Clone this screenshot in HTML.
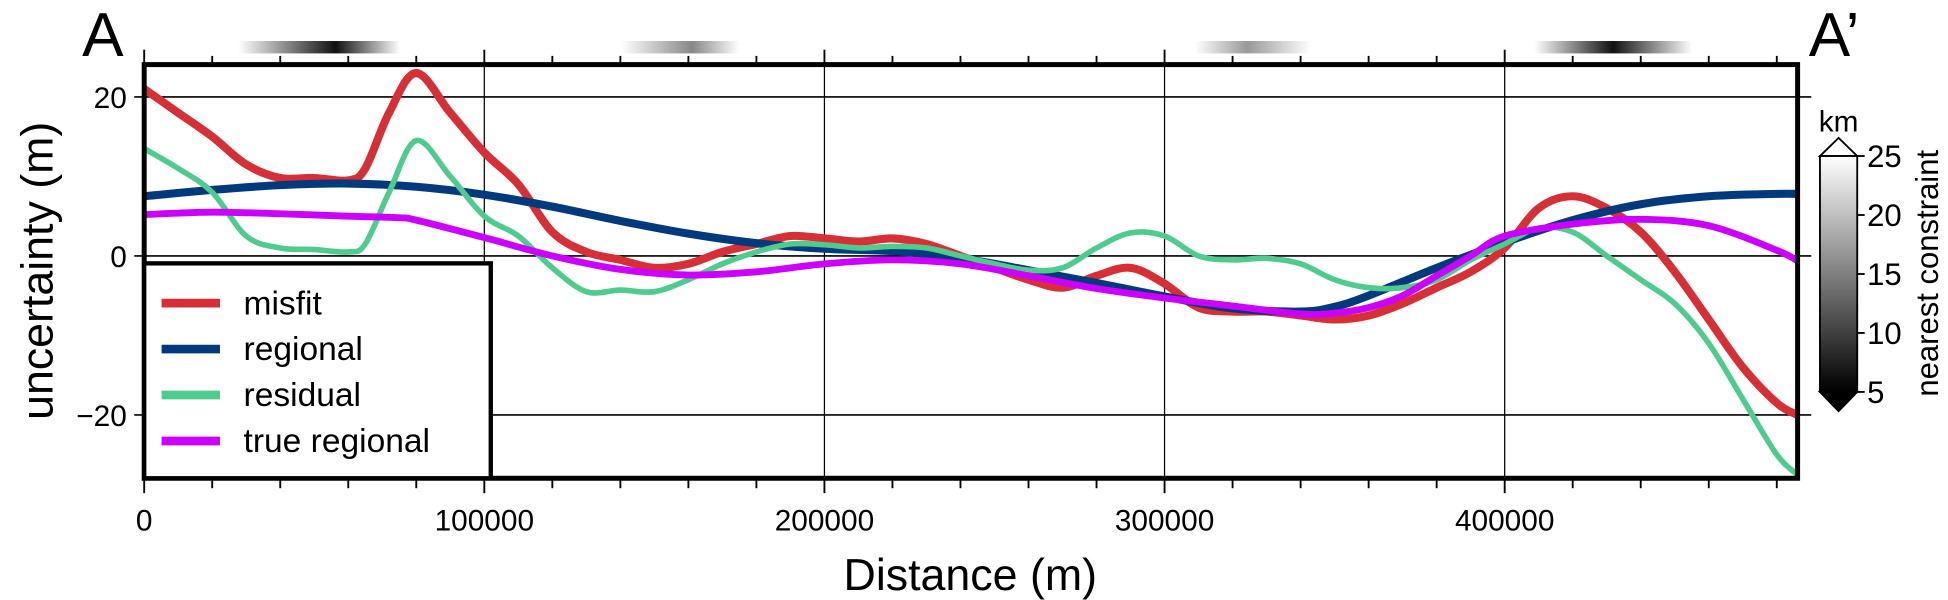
<!DOCTYPE html>
<html><head><meta charset="utf-8"><style>
html,body{margin:0;padding:0;background:#fff;}
svg{display:block;font-family:"Liberation Sans",sans-serif;}
</style></head><body>
<svg id="chart" width="1948" height="600" viewBox="0 0 1568 483" xmlns="http://www.w3.org/2000/svg">
<defs>
<linearGradient id="g1" x1="0" x2="1"><stop offset="0" stop-color="#fff"/><stop offset="0.6" stop-color="#111"/><stop offset="1" stop-color="#fff"/></linearGradient>
<linearGradient id="g2" x1="0" x2="1"><stop offset="0" stop-color="#fff"/><stop offset="0.6" stop-color="#888"/><stop offset="1" stop-color="#fff"/></linearGradient>
<linearGradient id="g3" x1="0" x2="1"><stop offset="0" stop-color="#fff"/><stop offset="0.45" stop-color="#999"/><stop offset="1" stop-color="#fff"/></linearGradient>
<linearGradient id="g4" x1="0" x2="1"><stop offset="0" stop-color="#fff"/><stop offset="0.5" stop-color="#111"/><stop offset="1" stop-color="#fff"/></linearGradient>
<linearGradient id="cb" x1="0" x2="0" y1="0" y2="1"><stop offset="0" stop-color="#fff"/><stop offset="1" stop-color="#000"/></linearGradient>
<clipPath id="clip"><rect x="116" y="52" width="1331" height="333"/></clipPath>
</defs>
<g id="grid"></g>
<g id="series" clip-path="url(#clip)"></g>
<rect x="116" y="52" width="1331" height="333" fill="none" stroke="#000" stroke-width="4"/>
<g id="ticks"></g>
<g>
<rect x="192" y="33" width="130" height="10" fill="url(#g1)"/>
<rect x="500" y="33" width="95" height="10" fill="url(#g2)"/>
<rect x="962" y="33" width="93" height="10" fill="url(#g3)"/>
<rect x="1235" y="33" width="127" height="10" fill="url(#g4)"/>
</g>
<text x="66" y="45" font-size="50">A</text>
<text x="1456" y="45" font-size="50">A’</text>
<text x="781" y="475" font-size="36" text-anchor="middle">Distance (m)</text>
<text transform="translate(42,218) rotate(-90)" font-size="36" text-anchor="middle">uncertainty (m)</text>
<g>
<rect x="116" y="212" width="279" height="173" fill="#fff" stroke="#000" stroke-width="3.5"/>
<line x1="130" x2="177" y1="244" y2="244" stroke="#d62f36" stroke-width="7"/>
<text x="196" y="253" font-size="27">misfit</text>
<line x1="130" x2="177" y1="281" y2="281" stroke="#003a7d" stroke-width="7"/>
<text x="196" y="290" font-size="27">regional</text>
<line x1="130" x2="177" y1="318" y2="318" stroke="#4fcc8d" stroke-width="7"/>
<text x="196" y="327" font-size="27">residual</text>
<line x1="130" x2="177" y1="355" y2="355" stroke="#cc00ff" stroke-width="7"/>
<text x="196" y="364" font-size="27">true regional</text>
</g>
<g>
<polygon points="1465,125.6 1480,111 1495,125.6" fill="#fff" stroke="#000" stroke-width="1.5"/>
<polygon points="1465,315.5 1480,331 1495,315.5" fill="#000" stroke="#000" stroke-width="1.5"/>
<rect x="1465" y="125.6" width="30" height="189.9" fill="url(#cb)" stroke="#000" stroke-width="1.5"/>
<text x="1480" y="106" font-size="24" text-anchor="middle">km</text>
<g id="cbticks"></g>
<text transform="translate(1560,220) rotate(-90)" font-size="25" text-anchor="middle">nearest constraint</text>
</g>
</svg>
<script>
const distance = [0,10000,20000,30000,40000,50000,60000,65000,72000,80000,90000,100000,110000,120000,130000,140000,150000,160000,170000,180000,190000,200000,210000,220000,230000,240000,250000,260000,270000,280000,290000,300000,310000,320000,330000,340000,350000,360000,370000,380000,390000,400000,410000,420000,430000,440000,450000,460000,470000,480000,486000];
const misfit = [21,18,15,11.5,9.8,9.8,9.5,11,18,23,18,13,9,3,0.5,-0.5,-1.5,-1,0.5,1.5,2.5,2.2,1.8,2.2,1.5,0,-1.5,-3,-4,-2.5,-1.5,-3.5,-6.5,-7,-7,-7.5,-8,-7.5,-6,-4,-2,1,6,7.5,6,3,-2,-8,-14,-18.5,-20];
const residual = [13.5,11,8,2.5,1,0.8,0.5,1.5,8,14.5,10,5,2.5,-1.5,-4.5,-4.3,-4.5,-3,-1,0.5,1.5,1.4,1,1.2,1,0,-1,-1.8,-1.5,1,2.9,2.5,0,-0.5,-0.3,-1,-3,-4,-4,-3,-0.5,1.5,3.5,3,0,-3,-6,-11,-18,-25,-27.5];
const regionalX = [0,20000,40000,60000,80000,100000,120000,140000,160000,180000,200000,220000,240000,260000,280000,300000,320000,340000,350000,360000,380000,400000,420000,440000,460000,480000,486000];
const regional = [7.5,8.3,8.9,9.1,8.7,7.7,6.2,4.4,2.8,1.6,0.9,0.6,-0.3,-1.8,-3.4,-5.1,-6.6,-7,-6.4,-5,-1.5,1.7,4.5,6.5,7.5,7.8,7.8];
const trueX = [0,20000,40000,60000,75000,80000,100000,120000,140000,160000,180000,200000,220000,240000,260000,280000,300000,320000,340000,350000,360000,370000,380000,390000,400000,420000,440000,460000,480000,486000];
const trueRegional = [5.2,5.5,5.3,5,4.8,4.5,2.3,0,-1.7,-2.4,-2,-1,-0.5,-1,-2.5,-4.1,-5.3,-6.3,-7.3,-7.2,-6.5,-5,-2.5,0,2.5,4,4.6,3.8,0.7,-0.6];
const xTicks = [0,100000,200000,300000,400000];
const yTicks = [20,0,-20];
const cbTicks = [5,10,15,20,25];

const NS='http://www.w3.org/2000/svg';
const X = v => 116 + v*0.002738;
const Y = v => 206 - v*6.4;
const CB = v => 315.5 - (v-5)/20*189.9;
function mk(tag, attrs, parent){const e=document.createElementNS(NS,tag);for(const k in attrs)e.setAttribute(k,attrs[k]);parent.appendChild(e);return e;}
function path(xs, ys){
  const p = xs.map((x,i)=>[X(x),Y(ys[i])]);
  let d='M'+p[0][0]+','+p[0][1];
  for(let i=0;i<p.length-1;i++){
    const p0=p[Math.max(0,i-1)],p1=p[i],p2=p[i+1],p3=p[Math.min(p.length-1,i+2)];
    const c1x=p1[0]+(p2[0]-p0[0])/6,c1y=p1[1]+(p2[1]-p0[1])/6;
    const c2x=p2[0]-(p3[0]-p1[0])/6,c2y=p2[1]-(p3[1]-p1[1])/6;
    d+=' C'+c1x+','+c1y+' '+c2x+','+c2y+' '+p2[0]+','+p2[1];
  }
  return d;
}
const grid=document.getElementById('grid'), ticks=document.getElementById('ticks'), ser=document.getElementById('series');
xTicks.forEach(t=>{
  if(t>0){const l=mk('line',{x1:X(t),x2:X(t),y1:52,y2:385,stroke:'#000','stroke-width':1},grid);
  
  }
  const tx=mk('text',{x:X(t),y:427,'font-size':24,'text-anchor':'middle'},ticks);
  
  
  tx.textContent=t;
});
for(let t=0;t<=486000;t+=20000){
  const major=t%100000===0;
  mk('line',{x1:X(t),x2:X(t),y1:major?40:45,y2:52,stroke:'#000','stroke-width':1.5},ticks);
  mk('line',{x1:X(t),x2:X(t),y1:385,y2:major?397:393,stroke:'#000','stroke-width':1.5},ticks);
}
yTicks.forEach(t=>{
  const l=mk('line',{x1:108,x2:1458,y1:Y(t),y2:Y(t),stroke:'#000','stroke-width':1.3},grid);
  
  
  const tx=mk('text',{x:102,y:Y(t)+9,'font-size':24,'text-anchor':'end'},ticks);
  
  
  tx.textContent=t<0?'−'+(-t):t;
});
const series=[[regionalX,regional,'#003a7d',6.5,'regional-line'],[trueX,trueRegional,'#cc00ff',5.5,'true-regional-line'],[distance,residual,'#4fcc8d',4.5,'residual-line'],[distance,misfit,'#d62f36',6.5,'misfit-line']];
[series[3],series[0],series[2],series[1]].forEach(s=>{
  const p=mk('path',{d:path(s[0],s[1]),fill:'none',stroke:s[2],'stroke-width':s[3],'stroke-linejoin':'round'},ser);
  
  
});
const cbg=document.getElementById('cbticks');
cbTicks.forEach(t=>{
  mk('line',{x1:1495,x2:1501,y1:CB(t),y2:CB(t),stroke:'#000','stroke-width':1.5},cbg);
  const tx=mk('text',{x:1503,y:CB(t)+9,'font-size':25},cbg);
  
  
  tx.textContent=t;
});
</script>
</body></html>
